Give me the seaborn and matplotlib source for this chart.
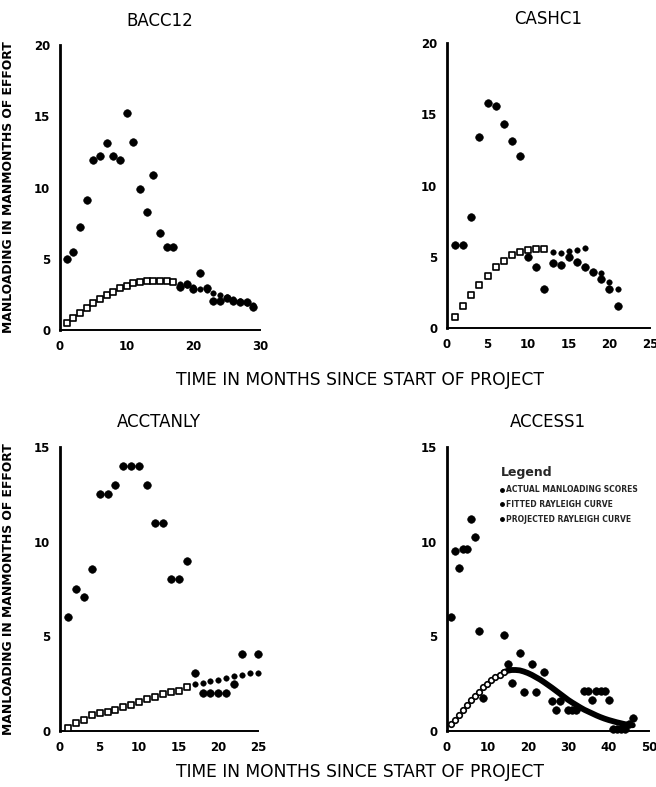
import numpy as np
import pandas as pd
import matplotlib
matplotlib.use("Agg")
import matplotlib.pyplot as plt
from matplotlib.lines import Line2D
import seaborn as sns

# ---------------- data: manloading (man-months) per project month ----------------
bacc_actual_month = list(range(1, 30))
bacc_actual = [5.0, 5.5, 7.2, 9.1, 11.9, 12.2, 13.1, 12.2, 11.9, 15.25, 13.2, 9.9, 8.3,
               10.85, 6.8, 5.85, 5.85, 3.0, 3.25, 2.85, 4.0, 2.95, 2.05, 2.05, 2.25,
               2.05, 1.95, 1.95, 1.6]
bacc_fit_month = list(range(1, 18))
bacc_fit = [0.47, 0.82, 1.17, 1.52, 1.87, 2.18, 2.46, 2.7, 2.92, 3.11, 3.27, 3.39,
            3.46, 3.46, 3.46, 3.44, 3.35]
bacc_proj_month = list(range(18, 30))
bacc_proj = [3.25, 3.15, 3.02, 2.9, 2.78, 2.62, 2.48, 2.32, 2.17, 2.02, 1.88, 1.72]

cash_actual_month = list(range(1, 22))
cash_actual = [5.85, 5.85, 7.8, 13.4, 15.8, 15.55, 14.3, 13.15, 12.05, 5.0, 4.3, 2.75,
               4.55, 4.45, 4.95, 4.65, 4.3, 3.95, 3.45, 2.75, 1.55]
cash_fit_month = list(range(1, 13))
cash_fit = [0.8, 1.55, 2.3, 3.0, 3.65, 4.25, 4.7, 5.1, 5.35, 5.5, 5.55, 5.55]
cash_proj_month = list(range(13, 22))
cash_proj = [5.35, 5.25, 5.4, 5.5, 5.6, 3.95, 3.85, 3.2, 2.75]

acct_actual_month = [1, 2, 3, 4, 5, 6, 7, 8, 9, 10, 11, 12, 13, 14, 15, 16, 17, 18, 19,
                     20, 21, 22, 23, 25]
acct_actual = [6.0, 7.5, 7.05, 8.55, 12.5, 12.5, 13.0, 14.0, 14.0, 14.0, 13.0, 11.0,
               11.0, 8.0, 8.0, 9.0, 3.05, 2.0, 2.0, 2.0, 2.0, 2.5, 4.05, 4.05]
acct_fit_month = list(range(1, 17))
acct_fit = [0.18, 0.4, 0.58, 0.85, 0.93, 0.99, 1.1, 1.29, 1.37, 1.55, 1.69, 1.81, 1.94,
            2.04, 2.13, 2.3]
acct_proj_month = list(range(17, 26))
acct_proj = [2.48, 2.52, 2.64, 2.69, 2.78, 2.92, 2.96, 3.05, 3.05]

access_actual_month = [1, 2, 3, 4, 5, 6, 7, 8, 9, 14, 15, 16, 18, 19, 21, 22, 24, 26,
                       27, 28, 30, 31, 32, 34, 35, 36, 37, 38, 39, 40, 41, 42, 43, 44,
                       45, 46]
access_actual = [6.0, 9.5, 8.6, 9.6, 9.6, 11.2, 10.25, 5.3, 1.73, 5.05, 3.55, 2.55, 4.1,
                 2.05, 3.55, 2.05, 3.1, 1.6, 1.1, 1.6, 1.1, 1.1, 1.1, 2.1, 2.1, 1.65,
                 2.1, 2.1, 2.1, 1.65, 0.08, 0.08, 0.08, 0.08, 0.35, 0.68]
access_fit_month = list(range(1, 15))
access_fit = [0.35, 0.6, 0.85, 1.12, 1.37, 1.62, 1.86, 2.08, 2.3, 2.5, 2.68, 2.84, 2.98,
              3.1]
access_proj_month = list(range(14, 47))
access_proj = [3.1, 3.18, 3.22, 3.22, 3.2, 3.14, 3.06, 2.96, 2.84, 2.72, 2.58, 2.43,
               2.28, 2.12, 1.96, 1.8, 1.64, 1.5, 1.37, 1.24, 1.12, 1.02, 0.92, 0.82,
               0.73, 0.65, 0.58, 0.52, 0.46, 0.41, 0.36, 0.32, 0.3]

titles = ["BACC12", "CASHC1", "ACCTANLY", "ACCESS1"]
x_ticks = [[0, 10, 20, 30], [0, 5, 10, 15, 20, 25], [0, 5, 10, 15, 20, 25],
           [0, 10, 20, 30, 40, 50]]
y_ticks = [[0, 5, 10, 15, 20], [0, 5, 10, 15, 20], [0, 5, 10, 15], [0, 5, 10, 15]]
legend_labels = ["ACTUAL MANLOADING SCORES", "FITTED RAYLEIGH CURVE",
                 "PROJECTED RAYLEIGH CURVE"]
x_title = "TIME IN MONTHS SINCE START OF PROJECT"
y_title = "MANLOADING IN MANMONTHS OF EFFORT"

panels = [
    (bacc_actual_month, bacc_actual, bacc_fit_month, bacc_fit, bacc_proj_month, bacc_proj),
    (cash_actual_month, cash_actual, cash_fit_month, cash_fit, cash_proj_month, cash_proj),
    (acct_actual_month, acct_actual, acct_fit_month, acct_fit, acct_proj_month, acct_proj),
    (access_actual_month, access_actual, access_fit_month, access_fit,
     access_proj_month, access_proj),
]

# ---------------- figure ----------------
sns.set_style("white")
plt.rcParams["font.family"] = ["DejaVu Sans"]
plt.rcParams["font.weight"] = "bold"

fig = plt.figure(figsize=(6.56, 7.87), dpi=100)
boxes = [
    [0.0915, 0.5807, 0.3049, 0.3621],
    [0.6814, 0.5832, 0.3095, 0.3621],
    [0.0915, 0.0712, 0.3018, 0.3609],
    [0.6814, 0.0712, 0.3079, 0.3609],
]

ink = "black"
for i, (box, data) in enumerate(zip(boxes, panels)):
    ax = fig.add_axes(box)
    am, av, fm, fv, pm, pv = data
    actual_df = pd.DataFrame({"month": am, "manloading": av})
    fit_df = pd.DataFrame({"month": fm, "manloading": fv})
    proj_df = pd.DataFrame({"month": pm, "manloading": pv})

    if i == 3:
        sns.lineplot(data=proj_df, x="month", y="manloading", ax=ax, color=ink,
                     lw=4.2, solid_capstyle="round")
        sns.scatterplot(data=fit_df, x="month", y="manloading", ax=ax, marker="o",
                        s=16, facecolor="white", edgecolor=ink, linewidth=1.2,
                        zorder=3)
    else:
        sns.scatterplot(data=fit_df, x="month", y="manloading", ax=ax, marker="s",
                        s=13, facecolor="white", edgecolor=ink, linewidth=1.2,
                        zorder=3)
        sns.scatterplot(data=proj_df, x="month", y="manloading", ax=ax, marker="o",
                        s=16, color=ink, edgecolor=ink, zorder=3)
    sns.scatterplot(data=actual_df, x="month", y="manloading", ax=ax, marker="o",
                    s=30, color=ink, edgecolor=ink, zorder=4)

    for coll in ax.collections:
        coll.set_clip_on(False)

    ax.set_xlim(x_ticks[i][0], x_ticks[i][-1])
    ax.set_ylim(y_ticks[i][0], y_ticks[i][-1])
    ax.set_xticks(x_ticks[i])
    ax.set_yticks(y_ticks[i])
    ax.set_xlabel("")
    ax.set_ylabel("")
    for side in ("top", "right"):
        ax.spines[side].set_visible(False)
    ax.spines["left"].set_linewidth(2.0)
    ax.spines["bottom"].set_linewidth(1.4)
    ax.spines["left"].set_color(ink)
    ax.spines["bottom"].set_color(ink)
    ax.tick_params(axis="both", direction="out", colors=ink, labelsize=8.5,
                   length=4, width=1.2, pad=3)
    for lab in ax.get_xticklabels() + ax.get_yticklabels():
        lab.set_fontweight("bold")
    ax.set_title(titles[i], fontsize=12, fontweight="normal", color=ink, pad=14)

    if i in (0, 2):
        ax.text(-0.26, 0.5, y_title, transform=ax.transAxes, rotation=90,
                ha="center", va="center", fontsize=8.9, fontweight="bold",
                color=ink)

    if i == 3:
        handles = [Line2D([], [], ls="", marker="o", ms=2.5, color=ink)
                   for _ in legend_labels]
        leg = ax.legend(handles, legend_labels, title="Legend", loc="upper left",
                        bbox_to_anchor=(0.24, 0.95), frameon=False, fontsize=5.5,
                        title_fontsize=9, handlelength=0.4, handletextpad=0.3,
                        labelspacing=0.75, borderpad=0.2)
        leg._legend_box.align = "left"
        for t in leg.get_texts():
            t.set_fontweight("bold")

for y_px in (380, 772):
    fig.text(360 / 656, 1 - y_px / 787, x_title, ha="center", va="center",
             fontsize=12.3, color=ink, fontweight="normal")

fig.savefig("out.png", dpi=100)
